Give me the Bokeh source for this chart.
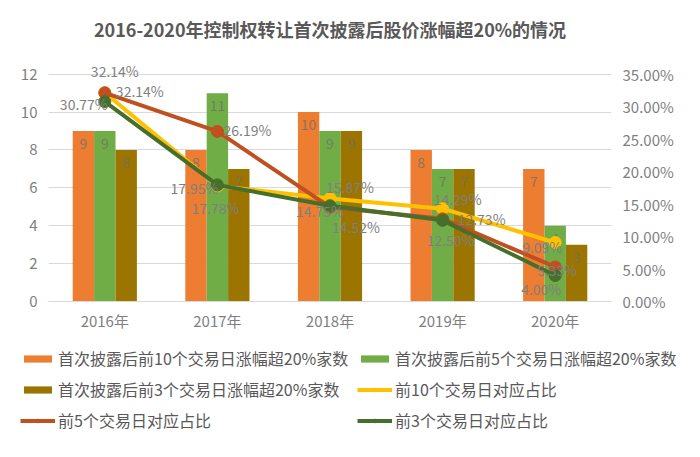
from bokeh.plotting import figure
from bokeh.models import (ColumnDataSource, Range1d, LinearAxis, FixedTicker,
                          PrintfTickFormatter, Legend, LegendItem)
from bokeh.transform import dodge
from bokeh.core.properties import value
from bokeh.embed import file_html
from bokeh.resources import INLINE

# data
years = ["2016年", "2017年", "2018年", "2019年", "2020年"]
count_10d = [9, 8, 10, 8, 7]
count_5d = [9, 11, 9, 7, 4]
count_3d = [8, 7, 9, 7, 3]
pct_10d = [32.14, 17.78, 15.87, 14.29, 9.09]
pct_5d = [32.14, 26.19, 14.52, 12.73, 5.33]
pct_3d = [30.77, 17.95, 14.75, 12.50, 4.00]
left_ticks = [0, 2, 4, 6, 8, 10, 12]
right_ticks = [0, 5, 10, 15, 20, 25, 30, 35]

names = ["首次披露后前10个交易日涨幅超20%家数", "首次披露后前5个交易日涨幅超20%家数",
         "首次披露后前3个交易日涨幅超20%家数", "前10个交易日对应占比",
         "前5个交易日对应占比", "前3个交易日对应占比"]

FONT = value("Noto Sans CJK SC")
GRAY = "#7f7f7f"
BAR_COLORS = ["#ED7D31", "#70AD47", "#9C7500"]
LINE_COLORS = ["#FFC000", "#C0501F", "#466F2C"]

# label placement (pixel offsets from the point)
off_10d = ([10, -2, 20, 15, -13], [-22, 22, -11, -10, 5])
off_5d = ([35, 30, 26, 39, 2], [-2, -1, 20, 0, 3])
off_3d = ([-21, -23, -10, 8, -14], [2, 3, 5, 20, 13])

y_top = 13.2
p = figure(x_range=years, y_range=Range1d(0, y_top), width=692, height=336,
           output_backend="svg", toolbar_location=None, tools="",
           min_border_left=48, min_border_right=81, min_border_top=51,
           min_border_bottom=35)
p.extra_y_ranges = {"pct": Range1d(0, y_top * 35 / 12)}
p.x_range.range_padding = 0
p.outline_line_color = None
p.xgrid.grid_line_color = None
p.ygrid.grid_line_color = "#d9d9d9"
p.ygrid.ticker = FixedTicker(ticks=left_ticks)

p.title.text = "2016-2020年控制权转让首次披露后股价涨幅超20%的情况"
p.title.align = "center"
p.title.text_font = "Noto Sans CJK SC"
p.title.text_font_size = "18px"
p.title.text_color = "#595959"
p.title.text_font_style = "bold"
p.title.standoff = 19

p.yaxis.ticker = FixedTicker(ticks=left_ticks)
p.xaxis.axis_line_color = "#d9d9d9"
p.xaxis.major_label_standoff = 2
p.yaxis.axis_line_color = None
for ax in (p.xaxis, p.yaxis):
    ax.major_tick_line_color = None
    ax.minor_tick_line_color = None
    ax.major_label_text_color = GRAY
    ax.major_label_text_font = "Noto Sans CJK SC"
    ax.major_label_text_font_size = "15px"

right = LinearAxis(y_range_name="pct", ticker=FixedTicker(ticks=right_ticks),
                   formatter=PrintfTickFormatter(format="%.2f%%"))
right.axis_line_color = None
right.major_tick_line_color = None
right.minor_tick_line_color = None
right.major_label_text_color = GRAY
right.major_label_text_font = "Noto Sans CJK SC"
right.major_label_text_font_size = "15px"
p.add_layout(right, "right")

src = ColumnDataSource(dict(
    year=years, c10=count_10d, c5=count_5d, c3=count_3d,
    t10=[str(v) for v in count_10d], t5=[str(v) for v in count_5d],
    t3=[str(v) for v in count_3d]))
line_srcs = [ColumnDataSource(dict(year=years, v=vals,
                                   t=["%.2f%%" % v for v in vals],
                                   dx=offs[0], dy=offs[1]))
             for vals, offs in zip((pct_10d, pct_5d, pct_3d),
                                   (off_10d, off_5d, off_3d))]

bw = 0.19
for col, shift, color in zip(("c10", "c5", "c3"), (-bw, 0, bw), BAR_COLORS):
    p.vbar(x=dodge("year", shift, range=p.x_range), top=col, width=bw,
           source=src, fill_color=color, line_color=None)
    p.text(x=dodge("year", shift, range=p.x_range), y=col,
           text="t" + col[1:], source=src, text_align="center",
           text_baseline="top", y_offset=7, text_font=FONT,
           text_font_size="14px", text_color="#6d6d6d", text_alpha=0.75)

for ls, color in zip(line_srcs, LINE_COLORS):
    p.line(x="year", y="v", source=ls, y_range_name="pct",
           line_color=color, line_width=4)
    p.scatter(x="year", y="v", source=ls, y_range_name="pct",
              size=12, fill_color=color, line_color=color)

for ls in line_srcs:
    p.text(x="year", y="v", text="t", source=ls, y_range_name="pct",
           x_offset="dx", y_offset="dy", text_align="center",
           text_baseline="middle", text_font=FONT, text_font_size="14px",
           text_color=GRAY)

# legend strip below the chart (a legend in the chart's center gets clipped);
# its renderers are hidden, only their legend glyphs are shown
lg = figure(x_range=years, y_range=Range1d(-20, -19), width=692, height=113,
            output_backend="svg", toolbar_location=None, tools="", min_border=0)
lg.axis.visible = False
lg.grid.visible = False
lg.outline_line_color = None
swatches = [lg.vbar(x="year", top=col, width=bw, source=src, fill_color=c,
                    line_color=None, visible=False)
            for col, c in zip(("c10", "c5", "c3"), BAR_COLORS)]
markers = []
for ls, c in zip(line_srcs, LINE_COLORS):
    markers.append([lg.line(x="year", y="v", source=ls, line_color=c,
                            line_width=4, visible=False),
                    lg.scatter(x="year", y="v", source=ls, size=12,
                               fill_color=c, line_color=c, visible=False)])
col_a = [LegendItem(label=names[0], renderers=[swatches[0]]),
         LegendItem(label=names[2], renderers=[swatches[2]]),
         LegendItem(label=names[4], renderers=markers[1])]
col_b = [LegendItem(label=names[1], renderers=[swatches[1]]),
         LegendItem(label=names[3], renderers=markers[0]),
         LegendItem(label=names[5], renderers=markers[2])]
for its, loc in ((col_a, (20, 17)), (col_b, (357, 17))):
    lg.add_layout(Legend(items=its, location=loc,
                         label_text_font="Noto Sans CJK SC",
                         label_text_font_size="16px",
                         label_text_color="#595959", glyph_width=35,
                         glyph_height=9, label_height=20, label_standoff=3,
                         spacing=7, padding=0, margin=0,
                         border_line_color=None, background_fill_alpha=0),
                  "center")

open("out.html", "w").write(file_html([p, lg], INLINE))
